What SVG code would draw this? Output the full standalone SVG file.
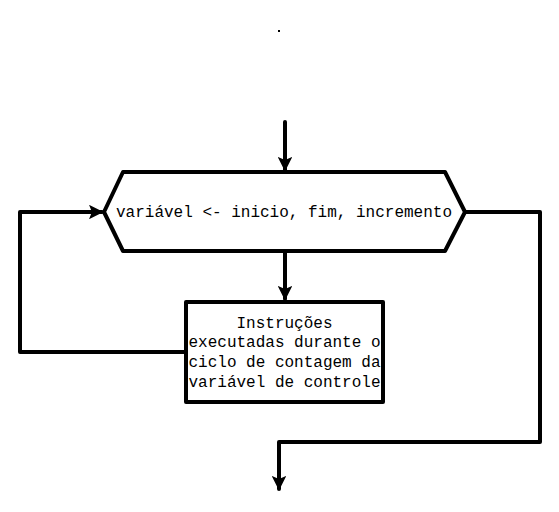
<svg xmlns="http://www.w3.org/2000/svg" width="559" height="512" viewBox="0 0 559 512">
<style>
.shape{fill:#fff;stroke:#000;stroke-width:4;stroke-linejoin:round}
.conn{fill:none;stroke:#000;stroke-width:4;stroke-linejoin:round;stroke-linecap:round}
.t{font-family:"Liberation Mono","Courier New",monospace;font-size:16px;fill:#000;text-anchor:middle}
</style>
<defs>
<marker id="ah" viewBox="0 0 10 10" refX="9" refY="5" markerWidth="3.6" markerHeight="3.6" orient="auto" markerUnits="strokeWidth">
<path d="M0,0 L10,5 L0,10 L2,5 Z" fill="#000"/>
</marker>
</defs>
<rect width="559" height="512" fill="#fff"/>
<rect x="278" y="30" width="2" height="2" fill="#000"/>
<g id="connectors">
<path class="conn" d="M285,122 L285,170" marker-end="url(#ah)"/>
<path class="conn" d="M285,251 L285,299" marker-end="url(#ah)"/>
<path class="conn" d="M186,352 L20,352 L20,212 L102,212" marker-end="url(#ah)"/>
<path class="conn" d="M465,212 L540,212 L540,442 L279,442 L279,489" marker-end="url(#ah)"/>
</g>
<g id="loop">
<path class="shape" d="M123,172 L445,172 L465,212 L445,251 L123,251 L104,212 Z"/>
<text class="t" x="284" y="217">variável &lt;- inicio, fim, incremento</text>
</g>
<g id="body">
<rect class="shape" x="186" y="302" width="197" height="100"/>
<text class="t" x="284.5" y="328">Instruções</text>
<text class="t" x="284.5" y="347">executadas durante o</text>
<text class="t" x="284.5" y="367">ciclo de contagem da</text>
<text class="t" x="284.5" y="387">variável de controle</text>
</g>
</svg>
